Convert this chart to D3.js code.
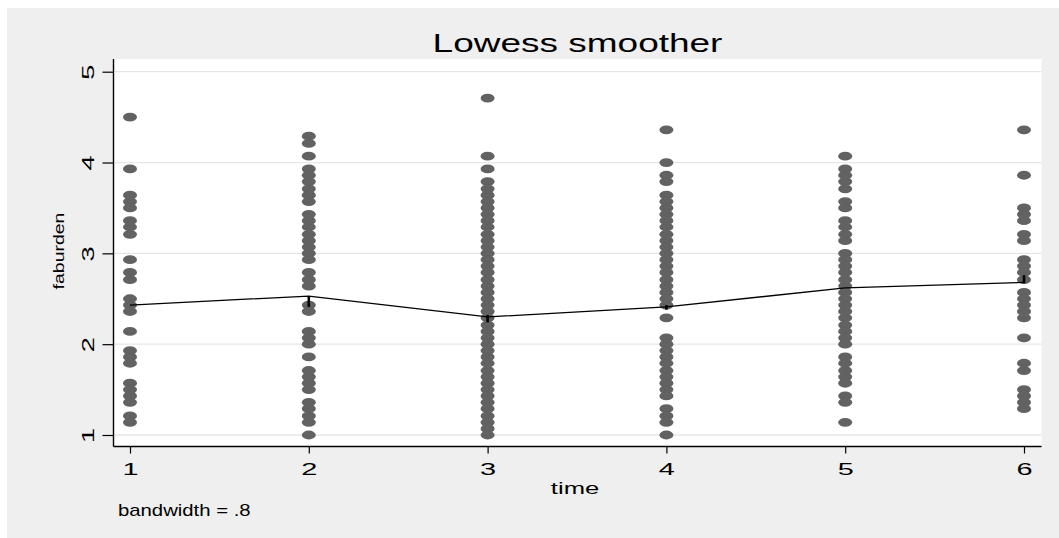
<!DOCTYPE html>
<html>
<head>
<meta charset="utf-8">
<script src="https://cdn.jsdelivr.net/npm/d3@7"></script>
<style>
  html, body { margin: 0; padding: 0; background: #ffffff; }
  svg { display: block; }
  text { font-family: "Liberation Sans", Arial, Helvetica, sans-serif; fill: #000; }
</style>
</head>
<body>
<svg id="chart" width="1059" height="538"></svg>
<script>
// faburden observations at each time point
const time1 = [4.50, 3.93, 3.64, 3.57, 3.50, 3.36, 3.29, 3.21, 2.93, 2.79, 2.71, 2.50, 2.43, 2.36,
  2.14, 1.93, 1.86, 1.79, 1.57, 1.50, 1.43, 1.36, 1.21, 1.14];
const time2 = [4.29, 4.21, 4.07, 3.93, 3.86, 3.79, 3.71, 3.64, 3.57, 3.43, 3.36, 3.29, 3.21, 3.14,
  3.07, 3.00, 2.93, 2.79, 2.71, 2.64, 2.43, 2.36, 2.14, 2.07, 2.00, 1.86, 1.71, 1.64, 1.57, 1.50,
  1.36, 1.29, 1.21, 1.14, 1.00];
const time3 = [4.71, 4.07, 3.93, 3.79, 3.71, 3.64, 3.57, 3.50, 3.43, 3.36, 3.29, 3.21, 3.14, 3.07,
  3.00, 2.93, 2.86, 2.79, 2.71, 2.64, 2.57, 2.50, 2.43, 2.36, 2.29, 2.21, 2.14, 2.07, 2.00, 1.93,
  1.86, 1.79, 1.71, 1.64, 1.57, 1.50, 1.43, 1.36, 1.29, 1.21, 1.14, 1.07, 1.00];
const time4 = [4.36, 4.00, 3.86, 3.79, 3.64, 3.57, 3.50, 3.43, 3.36, 3.29, 3.21, 3.14, 3.07, 3.00,
  2.93, 2.86, 2.79, 2.71, 2.64, 2.57, 2.50, 2.43, 2.29, 2.07, 2.00, 1.93, 1.86, 1.79, 1.71, 1.64,
  1.57, 1.50, 1.43, 1.29, 1.21, 1.14, 1.00];
const time5 = [4.07, 3.93, 3.86, 3.79, 3.71, 3.57, 3.50, 3.36, 3.29, 3.21, 3.14, 3.00, 2.93, 2.86,
  2.79, 2.71, 2.64, 2.57, 2.50, 2.43, 2.36, 2.29, 2.21, 2.14, 2.07, 2.00, 1.86, 1.79, 1.71, 1.64,
  1.57, 1.43, 1.36, 1.14];
const time6 = [4.36, 3.86, 3.50, 3.43, 3.36, 3.21, 3.14, 2.93, 2.86, 2.79, 2.71, 2.57, 2.50, 2.43,
  2.36, 2.29, 2.07, 1.79, 1.71, 1.50, 1.43, 1.36, 1.29];

const timePoints = [1, 2, 3, 4, 5, 6];
const observations = [time1, time2, time3, time4, time5, time6];

// lowess fitted values, and the small spread of tied fits at some times
const smoothFit = [2.43, 2.53, 2.30, 2.41, 2.62, 2.68];
const tieTimes = [2, 3, 4, 6];
const tieLow = [2.41, 2.24, 2.38, 2.67];
const tieHigh = [2.53, 2.32, 2.43, 2.76];

const xTicks = [1, 2, 3, 4, 5, 6];
const yTicks = [1, 2, 3, 4, 5];

const plot = { left: 113.5, right: 1041.5, top: 59, bottom: 446.5 };
const svg = d3.select("#chart");

// outer graph region
svg.append("rect")
  .attr("x", 7).attr("y", 8)
  .attr("width", 1052).attr("height", 530)
  .attr("fill", "#efefef");

// plot region
svg.append("rect")
  .attr("x", plot.left).attr("y", plot.top)
  .attr("width", plot.right - plot.left).attr("height", plot.bottom - plot.top)
  .attr("fill", "#ffffff");

const x = d3.scaleLinear().domain([1, 6]).range([130, 1024]);
const y = d3.scaleLinear().domain([1, 5]).range([435, 71.7]);

// horizontal grid lines
svg.append("g")
  .selectAll("line")
  .data(yTicks)
  .enter()
  .append("line")
  .attr("x1", plot.left).attr("x2", plot.right)
  .attr("y1", d => y(d)).attr("y2", d => y(d))
  .attr("stroke", "#e6e6e6")
  .attr("stroke-width", 1.3);

// scatter markers
const points = observations.flatMap((vals, i) => vals.map(v => ({ t: timePoints[i], v: v })));
svg.append("g")
  .selectAll("ellipse")
  .data(points)
  .enter()
  .append("ellipse")
  .attr("cx", d => x(d.t))
  .attr("cy", d => y(d.v))
  .attr("rx", 7)
  .attr("ry", 4.4)
  .attr("fill", "#626262");

// lowess line
const line = d3.line()
  .x((d, i) => x(timePoints[i]))
  .y(d => y(d));

svg.append("path")
  .datum(smoothFit)
  .attr("d", line)
  .attr("fill", "none")
  .attr("stroke", "#000")
  .attr("stroke-width", 1.3);

svg.append("g")
  .selectAll("line")
  .data(tieTimes)
  .enter()
  .append("line")
  .attr("x1", d => x(d)).attr("x2", d => x(d))
  .attr("y1", (d, i) => y(tieLow[i]))
  .attr("y2", (d, i) => y(tieHigh[i]))
  .attr("stroke", "#000")
  .attr("stroke-width", 2.6);

// y axis
const yAxis = svg.append("g")
  .attr("transform", `translate(${plot.left},0)`)
  .call(d3.axisLeft(y).tickValues(yTicks).tickSize(11).tickFormat(d3.format("d")));
yAxis.select(".domain").remove();
yAxis.selectAll(".tick line").attr("stroke", "#000").attr("stroke-width", 1.2);
yAxis.selectAll(".tick text")
  .attr("x", null).attr("dy", null)
  .attr("transform", "translate(-19.5,0) rotate(-90) scale(1.6,1)")
  .attr("text-anchor", "middle")
  .style("font-size", "17px")
  .style("font-family", null);

// x axis
const xAxis = svg.append("g")
  .attr("transform", `translate(0,${plot.bottom})`)
  .call(d3.axisBottom(x).tickValues(xTicks).tickSize(7).tickFormat(d3.format("d")));
xAxis.select(".domain").remove();
xAxis.selectAll(".tick line").attr("stroke", "#000").attr("stroke-width", 1.2);
xAxis.selectAll(".tick text")
  .attr("y", 29).attr("dy", null)
  .attr("transform", "scale(1.7,1)")
  .attr("text-anchor", "middle")
  .style("font-size", "17px")
  .style("font-family", null);

// axis lines
svg.append("line")
  .attr("x1", plot.left).attr("x2", plot.left)
  .attr("y1", plot.top).attr("y2", plot.bottom)
  .attr("stroke", "#000").attr("stroke-width", 1.4);
svg.append("line")
  .attr("x1", plot.left).attr("x2", plot.right)
  .attr("y1", plot.bottom).attr("y2", plot.bottom)
  .attr("stroke", "#000").attr("stroke-width", 1.4);

// titles
svg.append("text")
  .attr("transform", "translate(577.5,51.7) scale(1.48,1)")
  .attr("text-anchor", "middle")
  .style("font-size", "25px")
  .text("Lowess smoother");

svg.append("text")
  .attr("transform", "translate(575,494) scale(1.6,1)")
  .attr("text-anchor", "middle")
  .style("font-size", "16px")
  .text("time");

svg.append("text")
  .attr("transform", "translate(64,251) rotate(-90) scale(1.3,1)")
  .attr("text-anchor", "middle")
  .style("font-size", "15px")
  .text("faburden");

svg.append("text")
  .attr("transform", "translate(118,516) scale(1.27,1)")
  .style("font-size", "16px")
  .text("bandwidth = .8");
</script>
</body>
</html>
